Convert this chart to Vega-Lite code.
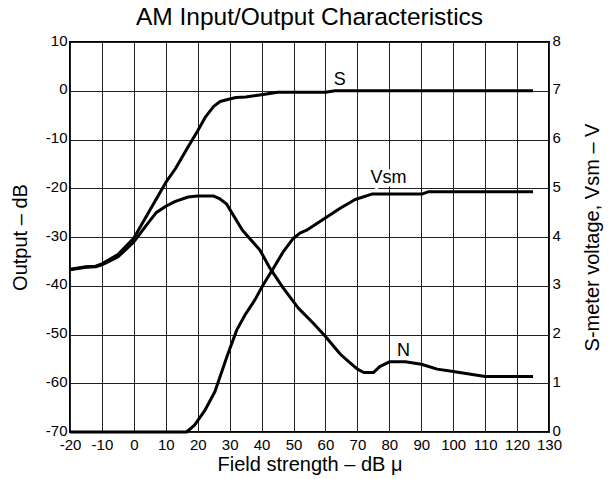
{
  "$schema": "https://vega.github.io/schema/vega-lite/v6.json",
  "width": 479,
  "height": 390,
  "autosize": {"type": "none"},
  "padding": {"left": 70, "top": 42, "right": 62, "bottom": 47},
  "background": "#ffffff",
  "title": {"text": "AM Input/Output Characteristics", "fontSize": 24.5, "font": "Liberation Sans", "fontWeight": "normal", "color": "#000", "anchor": "middle", "offset": 3},
  "config": {
    "view": {"stroke": "#000", "strokeWidth": 2},
    "axis": {
      "labelFont": "Liberation Sans", "labelFontSize": 15, "labelColor": "#000",
      "titleFont": "Liberation Sans", "titleFontSize": 20, "titleFontWeight": "normal", "titleColor": "#000",
      "domain": false, "ticks": false, "labelPadding": 3,
      "gridColor": "#222", "gridOpacity": 1, "gridWidth": 1,
      "labelOverlap": false, "labelFlush": false, "labelBound": false
    },
    "axisX": {"tickCount": 15, "grid": true, "labelPadding": 5, "titlePadding": 2}
  },
  "datasets": {
    "curves": [
      {"series": "S", "x": -20, "db": -36.6},
      {"series": "S", "x": -15, "db": -36.1},
      {"series": "S", "x": -12, "db": -36.0},
      {"series": "S", "x": -10, "db": -35.5},
      {"series": "S", "x": -5, "db": -33.6},
      {"series": "S", "x": 0, "db": -30.2},
      {"series": "S", "x": 5, "db": -24.5},
      {"series": "S", "x": 10, "db": -18.8},
      {"series": "S", "x": 13, "db": -16.0},
      {"series": "S", "x": 17, "db": -11.5},
      {"series": "S", "x": 20, "db": -8.2},
      {"series": "S", "x": 22.5, "db": -5.3},
      {"series": "S", "x": 25, "db": -3.2},
      {"series": "S", "x": 27, "db": -2.2},
      {"series": "S", "x": 30, "db": -1.7},
      {"series": "S", "x": 32, "db": -1.4},
      {"series": "S", "x": 35, "db": -1.3},
      {"series": "S", "x": 40, "db": -0.8},
      {"series": "S", "x": 45, "db": -0.3},
      {"series": "S", "x": 60, "db": -0.3},
      {"series": "S", "x": 63, "db": 0},
      {"series": "S", "x": 125, "db": 0},
      {"series": "N", "x": -20, "db": -36.7},
      {"series": "N", "x": -15, "db": -36.2},
      {"series": "N", "x": -12, "db": -36.1},
      {"series": "N", "x": -10, "db": -35.7},
      {"series": "N", "x": -5, "db": -34.1},
      {"series": "N", "x": 0, "db": -31.0},
      {"series": "N", "x": 4, "db": -27.5},
      {"series": "N", "x": 7, "db": -25.0},
      {"series": "N", "x": 10, "db": -23.7},
      {"series": "N", "x": 13, "db": -22.7},
      {"series": "N", "x": 17, "db": -21.8},
      {"series": "N", "x": 20, "db": -21.6},
      {"series": "N", "x": 25, "db": -21.6},
      {"series": "N", "x": 27, "db": -22.2},
      {"series": "N", "x": 29, "db": -23.2},
      {"series": "N", "x": 34, "db": -28.6},
      {"series": "N", "x": 39.5, "db": -32.7},
      {"series": "N", "x": 42.6, "db": -36.4},
      {"series": "N", "x": 46.8, "db": -40.5},
      {"series": "N", "x": 51.5, "db": -44.6},
      {"series": "N", "x": 56.2, "db": -47.7},
      {"series": "N", "x": 60, "db": -50.4},
      {"series": "N", "x": 64.6, "db": -54.0},
      {"series": "N", "x": 67, "db": -55.4},
      {"series": "N", "x": 70, "db": -57.1},
      {"series": "N", "x": 72, "db": -57.8},
      {"series": "N", "x": 75, "db": -57.8},
      {"series": "N", "x": 77, "db": -56.6},
      {"series": "N", "x": 80, "db": -55.6},
      {"series": "N", "x": 85, "db": -55.6},
      {"series": "N", "x": 90, "db": -56.1},
      {"series": "N", "x": 95, "db": -57.1},
      {"series": "N", "x": 100, "db": -57.6},
      {"series": "N", "x": 110, "db": -58.6},
      {"series": "N", "x": 125, "db": -58.6}
    ],
    "vsm": [
      {"x": -20, "v": 0},
      {"x": 16.5, "v": 0},
      {"x": 19, "v": 0.14},
      {"x": 22.3, "v": 0.45},
      {"x": 25.4, "v": 0.83},
      {"x": 29.1, "v": 1.54},
      {"x": 32.2, "v": 2.09},
      {"x": 34.8, "v": 2.4},
      {"x": 37.9, "v": 2.71},
      {"x": 40.5, "v": 3.02},
      {"x": 43.7, "v": 3.36},
      {"x": 46.8, "v": 3.7},
      {"x": 49.9, "v": 3.97},
      {"x": 52, "v": 4.08},
      {"x": 54.1, "v": 4.14},
      {"x": 64.6, "v": 4.59},
      {"x": 69.3, "v": 4.77},
      {"x": 74.5, "v": 4.88},
      {"x": 90.2, "v": 4.88},
      {"x": 92.3, "v": 4.93},
      {"x": 125, "v": 4.93}
    ],
    "labels": [
      {"x": 64.5, "db": 2.2, "label": "S"},
      {"x": 79.7, "db": -17.9, "label": "Vsm"},
      {"x": 84.4, "db": -53.3, "label": "N"}
    ]
  },
  "layer": [
    {
      "layer": [
        {
          "data": {"name": "curves"},
          "mark": {"type": "line", "strokeWidth": 3, "color": "#000", "strokeJoin": "round"},
          "encoding": {
            "x": {"field": "x", "type": "quantitative",
              "scale": {"domain": [-20, 130], "nice": false, "zero": false},
              "axis": {"title": "Field strength – dB μ", "labelExpr": "datum.value + ''"}},
            "y": {"field": "db", "type": "quantitative",
              "scale": {"domain": [-70, 10], "nice": false, "zero": false},
              "axis": {"values": [-70, -60, -50, -40, -30, -20, -10, 0, 10], "grid": true, "title": "Output – dB", "labelExpr": "datum.value + ''", "titlePadding": 15, "labelOffset": -2}},
            "detail": {"field": "series"}
          }
        },
        {
          "data": {"name": "labels"},
          "transform": [{"filter": "datum.label == 'Vsm'"}],
          "mark": {"type": "text", "font": "Liberation Sans", "fontSize": 18, "baseline": "middle", "align": "center", "stroke": "#fff", "strokeWidth": 7, "fill": "#fff"},
          "encoding": {
            "x": {"field": "x", "type": "quantitative"},
            "y": {"field": "db", "type": "quantitative"},
            "text": {"field": "label"}
          }
        },
        {
          "data": {"name": "labels"},
          "mark": {"type": "text", "font": "Liberation Sans", "fontSize": 18, "baseline": "middle", "align": "center", "color": "#000"},
          "encoding": {
            "x": {"field": "x", "type": "quantitative"},
            "y": {"field": "db", "type": "quantitative"},
            "text": {"field": "label"}
          }
        }
      ]
    },
    {
      "data": {"name": "vsm"},
      "mark": {"type": "line", "strokeWidth": 3, "color": "#000", "strokeJoin": "round"},
      "encoding": {
        "x": {"field": "x", "type": "quantitative",
          "axis": {"title": "Field strength – dB μ", "labelExpr": "datum.value + ''"}},
        "y": {"field": "v", "type": "quantitative",
          "scale": {"domain": [0, 8], "nice": false, "zero": false},
          "axis": {"orient": "right", "grid": false, "values": [0, 1, 2, 3, 4, 5, 6, 7, 8], "title": "S-meter voltage, Vsm – V", "titleAngle": -90, "titleBaseline": "top", "titlePadding": 22, "labelOffset": -2}}
      }
    }
  ],
  "resolve": {"scale": {"y": "independent"}}
}
